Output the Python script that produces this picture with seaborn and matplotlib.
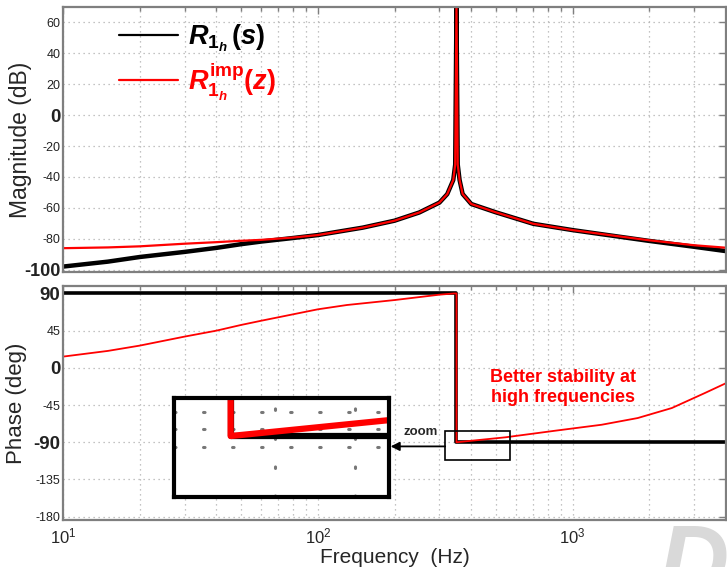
import numpy as np
import pandas as pd
import matplotlib
matplotlib.use("Agg")
import matplotlib.pyplot as plt
import seaborn as sns
from matplotlib import font_manager
from matplotlib.lines import Line2D
from matplotlib.patches import Rectangle

# ---------------- data ----------------
freq_mag = [10, 15, 20, 30, 40, 50, 60, 80, 100, 150, 200, 250, 300, 322, 340,
            346, 350, 354, 360, 370, 400, 500, 700, 1000, 1500, 2000, 3000, 4000]
mag_s = [-98.0, -94.8, -91.8, -88.5, -85.9, -83.5, -81.8, -79.5, -77.6, -72.8,
         -68.3, -63.0, -56.6, -51.1, -42.0, -32.0, 70.0, -32.0, -42.0, -51.0,
         -57.5, -62.9, -70.3, -74.4, -78.5, -81.4, -85.2, -88.0]
mag_z = [-86.1, -85.6, -84.9, -83.2, -82.2, -81.3, -80.7, -79.2, -77.6, -72.8,
         -68.3, -63.0, -56.6, -51.1, -42.0, -32.0, 70.0, -32.0, -42.0, -51.0,
         -57.5, -62.9, -70.3, -74.4, -78.3, -81.0, -84.2, -85.8]

freq_ph_s = [10, 350, 350, 4000]
ph_s = [90, 90, -90, -90]
freq_ph_z = [10, 15, 20, 30, 40, 50, 60, 100, 130, 200, 300, 343, 350, 350,
             545, 855, 1300, 1800, 2450, 3300, 4000]
ph_z = [13.6, 20.5, 26.9, 37.8, 45.0, 51.9, 57.0, 70.8, 76.0, 82.0, 88.5, 90.0,
        90.0, -90.0, -84.0, -76.0, -68.8, -60.7, -48.6, -30.5, -18.5]

mag_ticks = [60, 40, 20, 0, -20, -40, -60, -80, -100]
mag_bold = [0, -100]
ph_ticks = [90, 45, 0, -45, -90, -135, -180]
ph_bold = [90, 0, -90]
x_ticks = [10, 100, 1000]
x_tick_labels = [r"$\mathdefault{10^{1}}$", r"$\mathdefault{10^{2}}$", r"$\mathdefault{10^{3}}$"]

label_s = r"$R_{1_h}\,(s)$"
label_z = r"$R_{1_h}^{\mathrm{imp}}(z)$"
annot_text = "Better stability at\nhigh frequencies"

# ---------------- style ----------------
sns.set_style("white")
names = {f.name for f in font_manager.fontManager.ttflist}
base = "Liberation Sans" if "Liberation Sans" in names else "DejaVu Sans"
plt.rcParams["font.family"] = [base, "DejaVu Sans"]
plt.rcParams["mathtext.fontset"] = "custom"
plt.rcParams["mathtext.it"] = f"{base}:italic:bold"
plt.rcParams["mathtext.rm"] = f"{base}:bold"
plt.rcParams["mathtext.bf"] = f"{base}:bold"

spine_col = "#7f7f7f"
grid_kw = dict(color="#b0b0b0", linestyle=(0, (1, 3)), linewidth=0.9)

fig = plt.figure(figsize=(7.27, 5.67), dpi=100)
ax1 = fig.add_axes([0.0867, 0.5203, 0.9120, 0.4674])
ax2 = fig.add_axes([0.0867, 0.0829, 0.9120, 0.4127])

df_mag = pd.DataFrame({"f": freq_mag, "s": mag_s, "z": mag_z})
df_ps = pd.DataFrame({"f": freq_ph_s, "p": ph_s})
df_pz = pd.DataFrame({"f": freq_ph_z, "p": ph_z})

for ax in (ax1, ax2):
    ax.set_xscale("log")
    ax.set_xlim(10, 4000)

sns.lineplot(data=df_mag, x="f", y="s", ax=ax1, color="black", linewidth=3.2,
             sort=False, estimator=None, legend=False)
sns.lineplot(data=df_mag, x="f", y="z", ax=ax1, color="#ff0000", linewidth=1.6,
             sort=False, estimator=None, legend=False)
sns.lineplot(data=df_ps, x="f", y="p", ax=ax2, color="black", linewidth=2.6,
             sort=False, estimator=None, legend=False)
sns.lineplot(data=df_pz, x="f", y="p", ax=ax2, color="#ff0000", linewidth=1.3,
             sort=False, estimator=None, legend=False)

ax1.set_ylim(-101.5, 70)
ax2.set_ylim(-184, 99)

ax1.set_yticks(mag_ticks)
ax2.set_yticks(ph_ticks)
for ax, ticks, bold in ((ax1, mag_ticks, mag_bold), (ax2, ph_ticks, ph_bold)):
    ax.set_yticklabels([str(t) for t in ticks])
    for lab, t in zip(ax.get_yticklabels(), ticks):
        if t in bold:
            lab.set_fontweight("bold")
            lab.set_fontsize(13.5 if t != -100 else 13)
        else:
            lab.set_fontsize(9)
        lab.set_color("#222222")

ax2.set_xticks(x_ticks)
ax2.set_xticklabels(x_tick_labels, fontsize=12)
ax1.set_xticks(x_ticks)
ax1.set_xticklabels([])

for ax in (ax1, ax2):
    ax.grid(True, which="major", axis="both", **grid_kw)
    ax.grid(True, which="minor", axis="x", **grid_kw)
    ax.tick_params(which="both", direction="in", top=True, right=True,
                   color=spine_col, width=1.0)
    ax.tick_params(which="major", length=5, pad=3)
    ax.tick_params(which="minor", length=3)
    ax.tick_params(axis="y", pad=2)
    for sp in ax.spines.values():
        sp.set_color(spine_col)
        sp.set_linewidth(1.6)
    ax.set_xlabel("")
ax2.tick_params(axis="x", which="major", pad=5)

ax1.set_ylabel("Magnitude (dB)", fontsize=16.5)
ax2.set_ylabel("Phase (deg)", fontsize=16)
ax1.yaxis.set_label_coords(-0.047, 0.5)
ax2.yaxis.set_label_coords(-0.054, 0.5)
ax2.set_xlabel("Frequency  (Hz)", fontsize=15, labelpad=1)

# legend
handles = [Line2D([], [], color="black", linewidth=1.6),
           Line2D([], [], color="#ff0000", linewidth=1.6)]
leg = ax1.legend(handles, [label_s, label_z], loc="upper left",
                 bbox_to_anchor=(0.047, 1.035), frameon=False, fontsize=19.5,
                 handlelength=2.2, handletextpad=0.35, labelspacing=0.25)
leg.get_texts()[0].set_color("black")
leg.get_texts()[1].set_color("#ff0000")

# annotation
ax2.text(914, -24, annot_text, color="#ff0000", fontsize=13, fontweight="bold",
         ha="center", va="center", linespacing=1.2)

# zoom rectangle & arrow
ax2.add_patch(Rectangle((316, -111.8), 566 - 316, 35.8, fill=False,
                        edgecolor="black", linewidth=1.2, zorder=5))
ax2.annotate("", xy=(193, -95), xytext=(316, -95),
             arrowprops=dict(arrowstyle="-|>", color="black", lw=1.3,
                             mutation_scale=13, shrinkA=0, shrinkB=0), zorder=5)
ax2.text(254, -78, "zoom", fontsize=9.5, fontweight="bold", ha="center", va="center")

# inset
axi = ax2.inset_axes([0.167, 0.098, 0.324, 0.423])
axi.set_facecolor("white")
axi.set_zorder(6)
axi.set_xscale("log")
sns.lineplot(data=df_ps, x="f", y="p", ax=axi, color="black", linewidth=4.5,
             sort=False, estimator=None, legend=False)
sns.lineplot(data=df_pz, x="f", y="p", ax=axi, color="#ff0000", linewidth=4.5,
             sort=False, estimator=None, legend=False)
axi.set_xlim(308, 499)
axi.set_ylim(-108.5, -78.5)
axi.set_xticks([387, 463])
axi.set_xticks([], minor=True)
axi.set_yticks([-93.4, -88.0, -82.6])
axi.set_xticklabels([])
axi.set_yticklabels([])
axi.tick_params(length=0)
axi.grid(True, color="#777777", linestyle=(0, (0.5, 9)), linewidth=2.2,
         dash_capstyle="round")
axi.set_xlabel("")
axi.set_ylabel("")
for sp in axi.spines.values():
    sp.set_color("black")
    sp.set_linewidth(3)

# watermark
fig.text(0.905, -0.045, "D", fontsize=70, fontweight="bold", style="italic",
         color="#d9d9d9", zorder=-5)

fig.savefig("out.png", dpi=100)
